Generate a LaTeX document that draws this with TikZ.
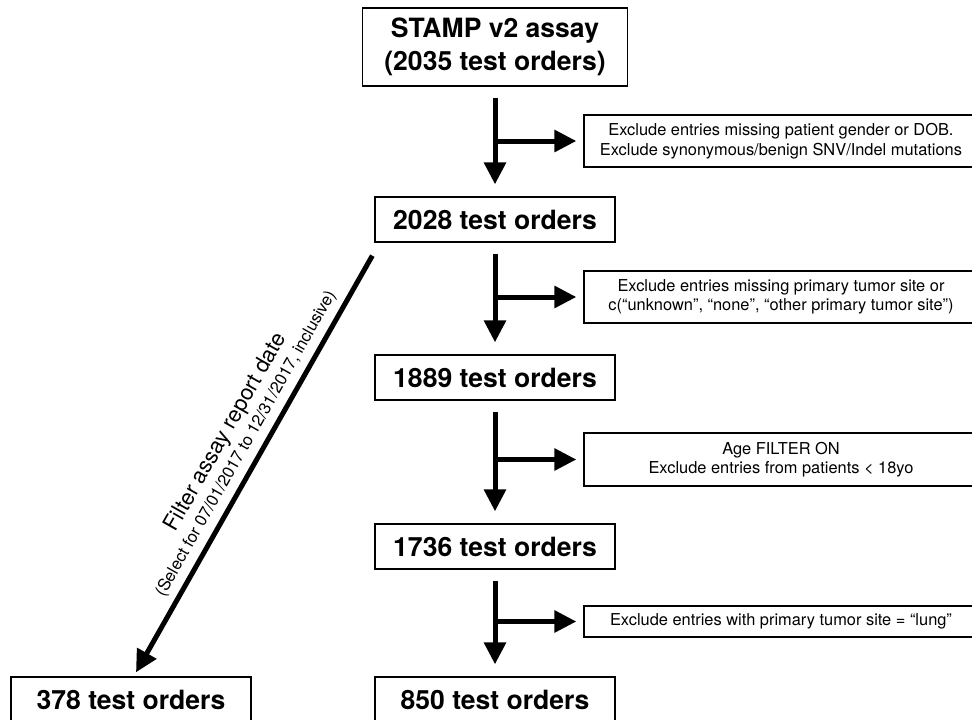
\documentclass[tikz,border=0pt]{standalone}
\usepackage{fontspec}
\setmainfont{TeX Gyre Heros}
\usetikzlibrary{arrows.meta,calc}
\begin{document}
\begin{tikzpicture}[x=0.75pt,y=-0.75pt,
  mainbox/.style={draw, line width=1pt, minimum width=180pt, minimum height=33.75pt, inner sep=0pt, align=center, font=\fontsize{19.9}{24.75}\selectfont\bfseries},
  exbox/.style={draw, line width=1pt, minimum width=295.5pt, inner sep=0pt, align=center, font=\fontsize{12.3}{14.5}\selectfont},
  bigarrow/.style={line width=3.75pt, -{Triangle[length=16.5pt,width=16pt]}},
  vstart/.style={shorten <=8.25pt, shorten >=9pt},
  hbranch/.style={shorten >=5.25pt},
  lablarge/.style={rotate=60.45, inner sep=0pt, font=\fontsize{16.5}{18}\selectfont},
  labsmall/.style={rotate=60.45, inner sep=0pt, font=\fontsize{12.5}{14}\selectfont},
]
\useasboundingbox (0,0) rectangle (972,719);
\clip (0,0) rectangle (972,719);

% main boxes
\node[mainbox, minimum width=198.75pt, minimum height=58.5pt] (top) at (495,47) {STAMP v2 assay\\(2035 test orders)};
\node[mainbox] (n2028) at (495,219.5) {2028 test orders};
\node[mainbox] (n1889) at (495,377.5) {1889 test orders};
\node[mainbox] (n1736) at (495,546.5) {1736 test orders};
\node[mainbox] (n850) at (495,699.5) {850 test orders};
\node[mainbox] (n378) at (131,699.5) {378 test orders};

% exclusion boxes
\node[exbox, minimum height=39pt] (ex1) at (781,141) {Exclude entries missing patient gender or DOB.\\Exclude synonymous/benign SNV/Indel mutations};
\node[exbox, minimum height=39pt] (ex2) at (781,297) {Exclude entries missing primary tumor site or\\c(“unknown”, “none”, “other primary tumor site”)};
\node[exbox, minimum height=39.75pt] (ex3) at (781,459.5) {Age FILTER ON\\Exclude entries from patients < 18yo};
\node[exbox, minimum height=23.25pt] (ex4) at (781,621.5) {Exclude entries with primary tumor site = “lung”};

% vertical arrows
\draw[bigarrow, vstart] (top) -- (n2028);
\draw[bigarrow, vstart] (n2028) -- (n1889);
\draw[bigarrow, vstart] (n1889) -- (n1736);
\draw[bigarrow, vstart] (n1736) -- (n850);

% branch arrows
\draw[bigarrow, hbranch] (top.south |- ex1.west) -- (ex1.west);
\draw[bigarrow, hbranch] (n2028.south |- ex2.west) -- (ex2.west);
\draw[bigarrow, hbranch] (n1889.south |- ex3.west) -- (ex3.west);
\draw[bigarrow, hbranch] (n1736.south |- ex4.west) -- (ex4.west);

% diagonal arrow
\draw[bigarrow] ($(n2028.south west)+(-2,13)$) -- ($(n378.north)+(5,-4)$);
\node[lablarge] (lab1) at (226.1,432.5) {Filter assay report date};
\node[labsmall] (lab2) at (246.1,443.9) {(Select for 07/01/2017 to 12/31/2017, inclusive)};
\end{tikzpicture}
\end{document}
